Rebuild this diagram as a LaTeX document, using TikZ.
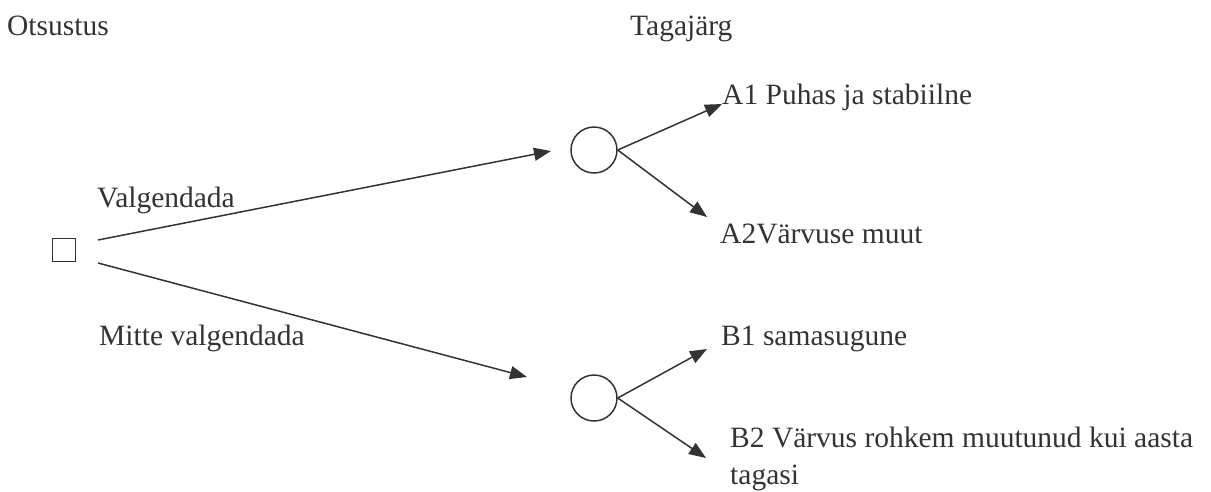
\documentclass[tikz,border=0pt]{standalone}
\usepackage{fontspec}
\setmainfont{Liberation Serif}
\usepackage{xcolor}
\usetikzlibrary{arrows.meta}
\definecolor{ink}{RGB}{51,51,51}

\begin{document}
\begin{tikzpicture}[x=1pt, y=-1pt,
  decision/.style={rectangle, draw=ink, line width=1.5pt, minimum size=23pt, inner sep=0pt},
  chance/.style={circle, draw=ink, line width=1.5pt, minimum size=46pt, inner sep=0pt},
  txt/.style={anchor=base west, inner sep=0pt, text=ink, align=left, font=\fontsize{29.5}{37}\selectfont},
  arrow/.style={-{Triangle[length=17pt, width=13pt]}, line width=1.5pt, draw=ink}
]
\useasboundingbox (0,0) rectangle (1211,491);

% Column headings
\node[txt] (otsus) at (7,35) {Otsustus};
\node[txt] (tagaj) at (630,35) {Tagajärg};

% Decision and chance nodes
\node[decision] (dec) at (64,250) {};
\node[chance] (chA) at (594,150) {};
\node[chance] (chB) at (594,398) {};

% Branch labels
\node[txt] (valg) at (97,207) {Valgendada};
\node[txt] (mitte) at (99,345) {Mitte valgendada};

% Outcomes (base of a two-line node is its last line)
\node[txt] (a1) at (722,104) {A1 Puhas ja stabiilne};
\node[txt] (a2) at (720,243) {A2Värvuse muut};
\node[txt] (b1) at (721,345) {B1 samasugune};
\node[txt] (b2) at (730,484) {B2 Värvus rohkem muutunud kui aasta\\tagasi};

% Branch ends
\coordinate (valgStart) at (98,240);
\coordinate (valgEnd) at (551,151);
\coordinate (mitteStart) at (98,263);
\coordinate (mitteEnd) at (527,377);
\coordinate (a2End) at (707,217);
\coordinate (b1End) at (707,349);
\coordinate (b2End) at (706,458);

% Arrows
\draw[arrow] (valgStart) -- (valgEnd);
\draw[arrow] (mitteStart) -- (mitteEnd);

\draw[arrow] (chA.east) -- (a1.base west);
\draw[arrow] (chA.east) -- (a2End);

\draw[arrow] (chB.east) -- (b1End);
\draw[arrow] (chB.east) -- (b2End);

\end{tikzpicture}
\end{document}
